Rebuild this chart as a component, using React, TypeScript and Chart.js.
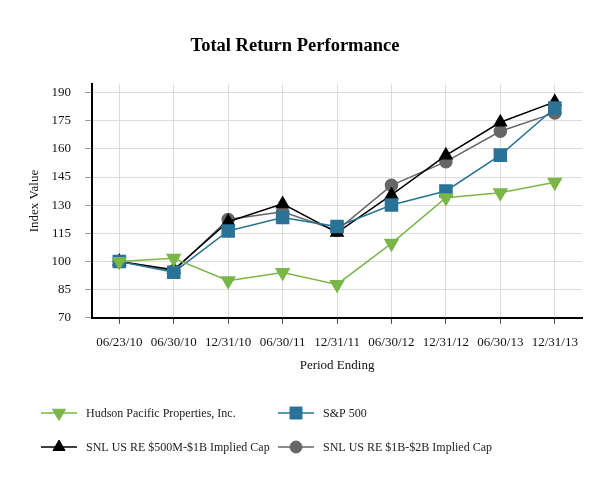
import { useEffect, useRef } from 'react';
import Chart from 'chart.js/auto';
import { drawPoint } from 'chart.js/helpers';

const periods = ['06/23/10', '06/30/10', '12/31/10', '06/30/11', '12/31/11', '06/30/12', '12/31/12', '06/30/13', '12/31/13'];
const hudson = [100, 101.7, 89.8, 94.2, 87.8, 109.7, 134, 136.6, 142.2];
const sp500 = [100, 94.3, 116.3, 123.4, 118.6, 130.1, 137.6, 156.7, 181.8];
const snl500m = [100, 95.6, 121.2, 130.7, 115.4, 135.5, 156.6, 174.2, 185.1];
const snl1b = [100, 95.0, 122.4, 126.5, 116.6, 140.6, 153.2, 169.4, 179.2];
const yTicks = [70, 85, 100, 115, 130, 145, 160, 175, 190];

const FONT = "'Liberation Serif', 'Times New Roman', serif";

// legend drawn inside the canvas, two columns
const legendPlugin = {
  id: 'bottomLegend',
  afterDraw(chart: any) {
    const ctx = chart.ctx;
    const slots = [
      { x: 41, y: 413 },
      { x: 278, y: 413 },
      { x: 41, y: 447 },
      { x: 278, y: 447 },
    ];
    chart.data.datasets.forEach((ds: any, i: number) => {
      const s = slots[i];
      ctx.save();
      ctx.strokeStyle = ds.borderColor;
      ctx.lineWidth = ds.borderWidth;
      ctx.beginPath();
      ctx.moveTo(s.x, s.y);
      ctx.lineTo(s.x + 36, s.y);
      ctx.stroke();
      ctx.fillStyle = ds.pointBackgroundColor;
      ctx.strokeStyle = ds.pointBorderColor;
      ctx.lineWidth = 1;
      drawPoint(ctx, {
        pointStyle: ds.pointStyle,
        rotation: ds.pointRotation || 0,
        radius: ds.pointRadius,
        borderWidth: 1,
      } as any, s.x + 18, s.y);
      ctx.fillStyle = '#222';
      ctx.font = `12px ${FONT}`;
      ctx.textBaseline = 'middle';
      ctx.fillText(ds.label, s.x + 45, s.y + 1);
      ctx.restore();
    });
  },
};

export default function App() {
  const canvasRef = useRef<HTMLCanvasElement | null>(null);

  useEffect(() => {
    if (!canvasRef.current) return;
    const mk = (label: string, data: number[], color: string, style: string, radius: number, rot = 0) => ({
      label,
      data,
      borderColor: color,
      backgroundColor: color,
      pointBackgroundColor: color,
      pointBorderColor: color,
      borderWidth: 1.5,
      pointStyle: style,
      pointRadius: radius,
      pointHoverRadius: radius,
      pointRotation: rot,
      tension: 0,
    });

    const chart = new Chart(canvasRef.current, {
      type: 'line',
      data: {
        labels: periods,
        datasets: [
          mk('Hudson Pacific Properties, Inc.', hudson, '#7ab648', 'triangle', 7.5, 180),
          mk('S&P 500', sp500, '#2a7396', 'rect', 8.5),
          mk('SNL US RE $500M-$1B Implied Cap', snl500m, '#000000', 'triangle', 7),
          mk('SNL US RE $1B-$2B Implied Cap', snl1b, '#666666', 'circle', 6),
        ] as any,
      },
      options: {
        responsive: false,
        animation: false,
        layout: { padding: { left: 8, right: 31, top: 0, bottom: 107 } },
        plugins: {
          legend: { display: false },
          tooltip: { enabled: false },
          title: {
            display: true,
            text: 'Total Return Performance',
            color: '#000',
            font: { family: FONT, size: 18.5, weight: 'bold' },
            padding: { top: 35, bottom: 27 },
          },
        },
        scales: {
          x: {
            offset: true,
            grid: { offset: false, color: '#dcdcdc', tickColor: '#444', tickLength: 6 },
            border: { color: '#000', width: 2 },
            ticks: { color: '#111', font: { family: FONT, size: 13 }, padding: 11, maxRotation: 0, autoSkip: false },
            title: {
              display: true,
              text: 'Period Ending',
              color: '#111',
              font: { family: FONT, size: 13 },
              padding: { top: -4, bottom: 0 },
            },
          },
          y: {
            min: 70,
            max: 194.5,
            afterBuildTicks: (scale: any) => {
              scale.ticks = yTicks.map((v) => ({ value: v }));
            },
            grid: { color: '#dcdcdc', tickColor: '#999', tickLength: 7 },
            border: { color: '#000', width: 2 },
            ticks: { color: '#111', font: { family: FONT, size: 13 }, padding: 14 },
            title: {
              display: true,
              text: 'Index Value',
              color: '#111',
              font: { family: FONT, size: 13 },
              padding: { top: 19, bottom: -5 },
            },
          },
        },
      },
      plugins: [legendPlugin],
    });

    return () => {
      chart.destroy();
    };
  }, []);

  return (
    <div style={{ position: 'fixed', left: 0, top: 0, width: 613, height: 480, background: '#fff' }}>
      <canvas ref={canvasRef} width={613} height={480} style={{ display: 'block' }} />
    </div>
  );
}
